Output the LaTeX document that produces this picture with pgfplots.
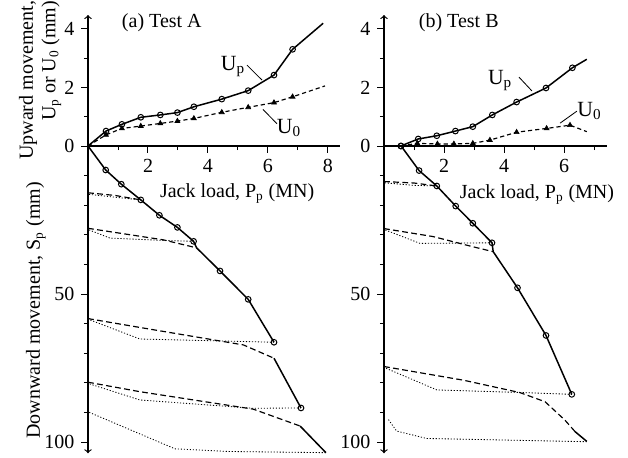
\documentclass[border=0pt]{standalone}
\usepackage{fontspec}
\setmainfont{Liberation Serif}
\usepackage{pgfplots}
\pgfplotsset{compat=1.18}
\pgfplotsset{
  common/.style={
    x=18pt, xmin=0, clip=false,
    /pgf/number format/assume math mode=true,
    ticklabel style={font=\fontsize{12}{12}\selectfont},
    tick style={black, line width=0.6pt},
    major tick length=4pt, minor tick length=2.5pt,
    axis line style={line width=0.7pt},
  },
  upper/.style={common, y=17.58pt, ymin=0, ymax=4.47,
    axis lines=left, x axis line style={-}, y axis line style={->},
    ytick={0,2,4}, minor ytick={1,3}, tick align=outside,
    xticklabel style={yshift=-3pt, inner sep=1pt}},
  lower/.style={common, y=1.776pt, ymin=0, ymax=103.8, y dir=reverse,
    axis x line=none, axis y line=left, y axis line style={->},
    ytick={50,100}, minor ytick={10,20,30,40,60,70,80,90}, tick align=outside},
  main/.style={black, line width=0.9pt, mark=none},
  cmark/.style={black, only marks, mark=o, mark size=1.7pt, mark options={fill=white, line width=0.6pt}},
  tmark/.style={black, only marks, mark=triangle*, mark size=1.7pt},
  reld/.style={black, line width=0.7pt, dash pattern=on 3.5pt off 2pt},
  unld/.style={black, line width=0.5pt, dash pattern=on 0.7pt off 1.1pt},
  udash/.style={black, line width=0.7pt, dash pattern=on 2.5pt off 1.8pt},
}
\begin{document}
\begin{tikzpicture}
\useasboundingbox (0,0) rectangle (376.8pt,274.2pt);
\fontsize{12}{12}\selectfont
% ---------------- Panel (a) upper ----------------
\begin{axis}[upper, at={(52.8pt,186.6pt)}, anchor=south west, xmax=8.4,
  xtick={2,4,6,8}, minor xtick={1,3,5,7}]
\addplot[main] coordinates {(0,0) (0.6,0.51) (1.13,0.74) (1.76,0.98) (2.41,1.06) (2.98,1.14) (3.53,1.34) (4.46,1.60) (5.34,1.89) (6.2,2.42) (6.82,3.30) (7.84,4.19)};
\addplot[cmark] coordinates {(0.6,0.51) (1.13,0.74) (1.76,0.98) (2.41,1.06) (2.98,1.14) (3.53,1.34) (4.46,1.60) (5.34,1.89) (6.2,2.42) (6.82,3.30)};
\addplot[udash] coordinates {(0,0) (0.6,0.38) (1.13,0.60) (1.76,0.68) (2.41,0.77) (2.98,0.85) (3.53,0.94) (4.46,1.15) (5.34,1.32) (6.2,1.48) (6.82,1.68) (7.9,2.05)};
\addplot[tmark] coordinates {(0.6,0.38) (1.13,0.60) (1.76,0.68) (2.41,0.77) (2.98,0.85) (3.53,0.94) (4.46,1.15) (5.34,1.32) (6.2,1.48) (6.82,1.68)};
\draw[line width=0.5pt] (axis cs:5.3,2.76) -- (axis cs:5.8,2.25);
\draw[line width=0.5pt] (axis cs:5.83,1.25) -- (axis cs:6.3,0.76);
\node[font=\fontsize{13}{13}\selectfont] at (axis cs:4.83,2.70) {U\textsubscript{p}};
\node[font=\fontsize{13}{13}\selectfont] at (axis cs:6.7,0.62) {U\textsubscript{0}};
\node[anchor=west] at (axis cs:0.9,4.22) {(a) Test A};
\node[inner sep=0pt] at (axis cs:4.97,-1.62) {Jack load, P\textsubscript{p} (MN)};
\end{axis}
% ---------------- Panel (a) lower ----------------
\begin{axis}[lower, at={(52.8pt,186.6pt)}, anchor=north west, xmax=8.4]
\addplot[main] coordinates {(0,0) (0.59,8.1) (1.11,12.9) (1.76,18.2) (2.38,23.4) (2.98,27.5) (3.52,32.2) (3.62,34.4) (4.4,42.2) (5.34,51.8) (6.2,66.3)};
\addplot[main] coordinates {(6.2,71.7) (7.1,88.5)};
\addplot[main] coordinates {(7.07,94.6) (7.93,103.6)};
\addplot[cmark] coordinates {(0.59,8.1) (1.11,12.9) (1.76,18.2) (2.38,23.4) (2.98,27.5) (3.52,32.2) (4.4,42.2) (5.34,51.8) (6.2,66.3) (7.1,88.5)};
% loop 1
\addplot[unld] coordinates {(1.76,18.2) (1.0,17.4) (0,16.3)};
\addplot[reld] coordinates {(0,15.8) (0.9,16.7) (1.76,18.2)};
% loop 2
\addplot[unld] coordinates {(3.52,32.2) (2.51,31.9) (0.73,31.1) (0,28.2)};
\addplot[reld] coordinates {(0,27.8) (2.51,31.7) (3.62,34.4)};
% loop 3
\addplot[unld] coordinates {(6.2,66.3) (1.73,65.2) (0,58.5)};
\addplot[reld] coordinates {(0,58.3) (1.73,61.3) (5.18,67.2) (6.2,71.7)};
% loop 4
\addplot[unld] coordinates {(7.1,88.5) (5.51,88.6) (1.73,85.8) (0,80.2)};
\addplot[reld] coordinates {(0,79.8) (1.73,83.0) (5.51,88.9) (7.07,94.6)};
% loop 5
\addplot[unld] coordinates {(7.93,103.6) (4.7,103.2) (2.9,102.3) (0,89.8)};
\end{axis}
% ---------------- Panel (b) upper ----------------
\begin{axis}[upper, at={(230.4pt,186.6pt)}, anchor=south west, xmax=7.43,
  xtick={2,4,6}, minor xtick={1,3,5,7}]
\addplot[main] coordinates {(0.56,0) (1.14,0.24) (1.76,0.35) (2.38,0.51) (2.96,0.66) (3.61,1.06) (4.42,1.50) (5.4,1.98) (6.28,2.67) (6.76,2.96)};
\addplot[cmark] coordinates {(0.56,0) (1.14,0.24) (1.76,0.35) (2.38,0.51) (2.96,0.66) (3.61,1.06) (4.42,1.50) (5.4,1.98) (6.28,2.67)};
\addplot[udash] coordinates {(0.56,0) (1.11,0.09) (1.78,0.07) (2.33,0.07) (2.96,0.09) (3.53,0.2) (4.42,0.47) (5.42,0.6) (6.2,0.71) (6.76,0.49)};
\addplot[tmark] coordinates {(1.11,0.09) (1.78,0.07) (2.33,0.07) (2.96,0.09) (3.53,0.2) (4.42,0.47) (5.42,0.6) (6.2,0.71)};
\draw[line width=0.5pt] (axis cs:4.5,2.35) -- (axis cs:4.93,1.88);
\draw[line width=0.5pt] (axis cs:5.87,0.78) -- (axis cs:6.43,1.19);
\node[font=\fontsize{13}{13}\selectfont] at (axis cs:3.87,2.25) {U\textsubscript{p}};
\node[font=\fontsize{13}{13}\selectfont] at (axis cs:6.85,1.2) {U\textsubscript{0}};
\node[anchor=west] at (axis cs:0.93,4.22) {(b) Test B};
\node[inner sep=0pt] at (axis cs:5.1,-1.66) {Jack load, P\textsubscript{p} (MN)};
\end{axis}
% ---------------- Panel (b) lower ----------------
\begin{axis}[lower, at={(230.4pt,186.6pt)}, anchor=north west, xmax=7.43]
\addplot[main] coordinates {(0.57,0) (1.17,8.3) (1.76,13.5) (2.39,20.3) (2.96,26.1) (3.6,32.7) (3.64,35.7) (4.45,47.9) (5.4,64) (6.26,83.9)};
\addplot[main] coordinates {(6.37,96.5) (6.76,99.8)};
\addplot[cmark] coordinates {(0.57,0) (1.17,8.3) (1.76,13.5) (2.39,20.3) (2.96,26.1) (3.6,32.7) (4.45,47.9) (5.4,64) (6.26,83.9)};
% loop 1
\addplot[unld] coordinates {(1.76,13.5) (1.0,13.3) (0,12.4)};
\addplot[reld] coordinates {(0,12.0) (1.0,12.5) (1.76,13.5)};
% loop 2
\addplot[unld] coordinates {(3.6,32.7) (1.2,32.9) (0,28.2)};
\addplot[reld] coordinates {(0,27.9) (1.64,30.6) (2.87,33.8) (3.64,35.7)};
% loop 3
\addplot[unld] coordinates {(6.26,83.9) (4.64,83.3) (1.76,82.4) (0,74.8)};
\addplot[reld] coordinates {(0,74.5) (2.64,79.1) (4.53,83.3) (5.37,86.4) (6.03,92.6) (6.37,96.5)};
% loop 4
\addplot[unld] coordinates {(6.76,99.9) (1.42,98.8) (0.42,96.3) (0.12,92.0)};
\end{axis}
% ---------------- axis titles ----------------
\node[rotate=90, align=right, font=\fontsize{12}{13.5}\selectfont] at (24pt,226pt) {Upward movement,\\U\textsubscript{p} or U\textsubscript{0} (mm)};
\node[rotate=90, font=\fontsize{12}{12}\selectfont] at (21.5pt,88pt) {Downward movement, S\textsubscript{p} (mm)};
\end{tikzpicture}
\end{document}
